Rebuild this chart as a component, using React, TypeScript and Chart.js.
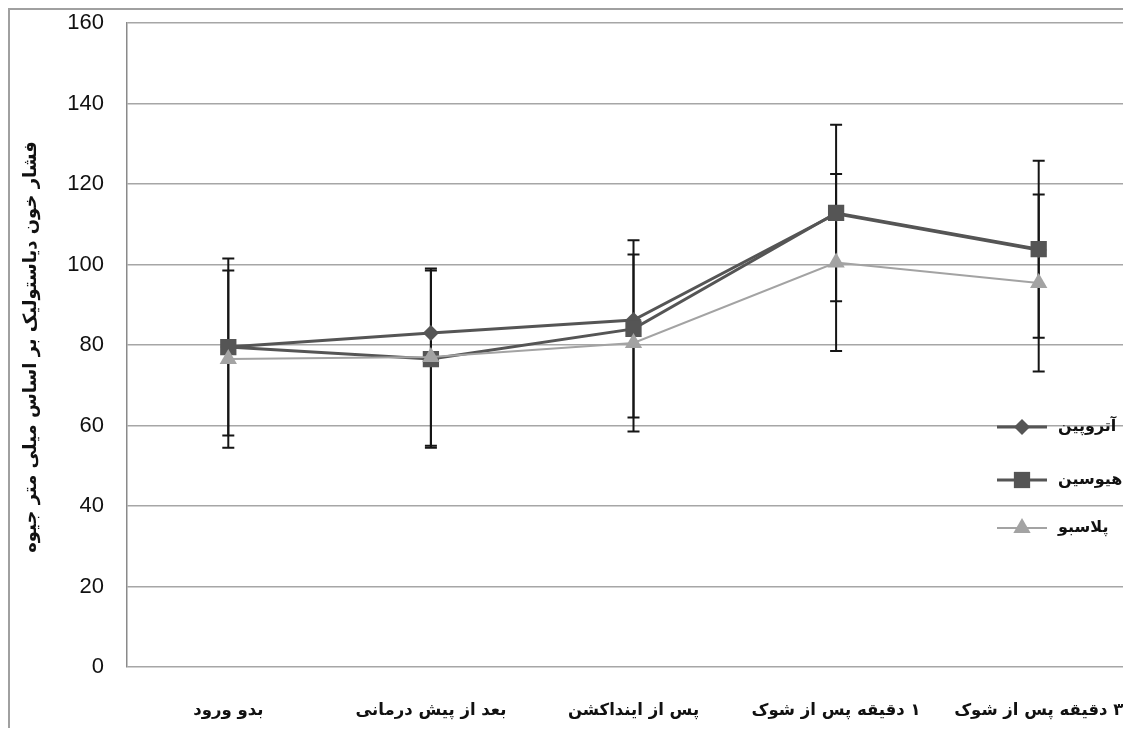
import React, { useEffect, useRef } from "react";
import { Chart, registerables } from "chart.js";

Chart.register(...registerables);

// ---- data ----
const categories = [
  "بدو ورود",
  "بعد از پیش درمانی",
  "پس از اینداکشن",
  "۱ دقیقه پس از شوک",
  "۳ دقیقه پس از شوک",
];
const seriesNames = ["آتروپین", "هیوسین", "پلاسبو"];
const atropine = [79.5, 83, 86.2, 112.6, 103.6];
const hyoscine = [79.5, 76.5, 84, 112.8, 103.8];
const placebo = [76.5, 77, 80.5, 100.5, 95.4];
const hyoscineSD = [22, 22, 22, 21.9, 22];
const placeboSD = [22, 22, 22, 22, 22];
const yMin = 0;
const yMax = 160;
const yStep = 20;
const yTitle = "فشار خون دیاستولیک بر اساس میلی متر جیوه";

const ARABIC_FONT = "'DejaVu Sans', 'Liberation Sans', sans-serif";
const CANVAS_W = 1130;
const CANVAS_H = 718;

const errorBarPlugin = {
  id: "errorBars",
  beforeDatasetsDraw(chart: any) {
    const ctx = chart.ctx;
    const xs = chart.scales.x;
    const ys = chart.scales.y;
    ctx.save();
    ctx.strokeStyle = "#151515";
    ctx.lineWidth = 2;
    chart.data.datasets.forEach((ds: any) => {
      if (!ds.errors) return;
      ds.data.forEach((v: number, i: number) => {
        const e = ds.errors[i];
        const x = xs.getPixelForValue(i);
        const yh = ys.getPixelForValue(v + e);
        const yl = ys.getPixelForValue(v - e);
        ctx.beginPath();
        ctx.moveTo(x, yh);
        ctx.lineTo(x, yl);
        ctx.moveTo(x - 6, yh);
        ctx.lineTo(x + 6, yh);
        ctx.moveTo(x - 6, yl);
        ctx.lineTo(x + 6, yl);
        ctx.stroke();
      });
    });
    ctx.restore();
  },
};

function drawMarker(ctx: CanvasRenderingContext2D, style: string, x: number, y: number, r: number) {
  ctx.beginPath();
  if (style === "rectRot") {
    ctx.moveTo(x - r, y);
    ctx.lineTo(x, y - r);
    ctx.lineTo(x + r, y);
    ctx.lineTo(x, y + r);
  } else if (style === "rect") {
    const s = r * Math.SQRT1_2;
    ctx.rect(x - s, y - s, 2 * s, 2 * s);
  } else {
    ctx.moveTo(x, y - r);
    ctx.lineTo(x + r * 0.866, y + r * 0.5);
    ctx.lineTo(x - r * 0.866, y + r * 0.5);
  }
  ctx.closePath();
  ctx.fill();
}

const legendPlugin = {
  id: "customLegend",
  afterDatasetsDraw(chart: any) {
    const ctx = chart.ctx;
    const a = chart.chartArea;
    const x0 = a.right - 143;
    const x1 = a.right - 93;
    const mx = (x0 + x1) / 2;
    const tx = a.right - 82;
    const rows = [404, 457, 505];
    ctx.save();
    chart.data.datasets.forEach((ds: any, i: number) => {
      const y = a.top + rows[i];
      ctx.strokeStyle = ds.borderColor;
      ctx.lineWidth = ds.borderWidth;
      ctx.beginPath();
      ctx.moveTo(x0, y);
      ctx.lineTo(x1, y);
      ctx.stroke();
      ctx.fillStyle = ds.pointBackgroundColor;
      drawMarker(ctx, ds.pointStyle, mx, y, ds.pointRadius);
      ctx.fillStyle = "#111";
      ctx.font = "bold 16px " + ARABIC_FONT;
      ctx.textAlign = "left";
      ctx.textBaseline = "middle";
      ctx.fillText(ds.label, tx, y);
    });
    ctx.restore();
  },
};

const yTitlePlugin = {
  id: "yTitle",
  afterDraw(chart: any) {
    const ctx = chart.ctx;
    const a = chart.chartArea;
    ctx.save();
    ctx.translate(21, (a.top + a.bottom) / 2 + 2);
    ctx.rotate(-Math.PI / 2);
    ctx.fillStyle = "#111";
    ctx.font = "bold 18px " + ARABIC_FONT;
    ctx.textAlign = "center";
    ctx.textBaseline = "middle";
    ctx.fillText(yTitle, 0, 0);
    ctx.restore();
  },
};

export default function App() {
  const ref = useRef<HTMLCanvasElement>(null);

  useEffect(() => {
    if (!ref.current) return;
    const chart = new Chart(ref.current, {
      type: "line",
      data: {
        labels: categories,
        datasets: [
          {
            label: seriesNames[0],
            data: atropine,
            borderColor: "#555555",
            backgroundColor: "#555555",
            pointBackgroundColor: "#555555",
            pointBorderColor: "#555555",
            borderWidth: 3,
            pointStyle: "rectRot",
            pointRadius: 8,
            pointBorderWidth: 0,
            order: 2,
          } as any,
          {
            label: seriesNames[1],
            data: hyoscine,
            errors: hyoscineSD,
            borderColor: "#555555",
            backgroundColor: "#555555",
            pointBackgroundColor: "#555555",
            pointBorderColor: "#555555",
            borderWidth: 3,
            pointStyle: "rect",
            pointRadius: 11.5,
            pointBorderWidth: 0,
            order: 1,
          } as any,
          {
            label: seriesNames[2],
            data: placebo,
            errors: placeboSD,
            borderColor: "#a3a3a3",
            backgroundColor: "#a3a3a3",
            pointBackgroundColor: "#a3a3a3",
            pointBorderColor: "#a3a3a3",
            borderWidth: 2,
            pointStyle: "triangle",
            pointRadius: 10,
            pointBorderWidth: 0,
            order: 0,
          } as any,
        ],
      },
      options: {
        animation: false,
        responsive: false,
        devicePixelRatio: 1,
        layout: { autoPadding: false, padding: { top: 13, left: 0, right: 0, bottom: 0 } },
        plugins: {
          legend: { display: false },
          tooltip: { enabled: false },
          title: { display: false },
        },
        scales: {
          x: {
            type: "category",
            offset: true,
            grid: { display: false, drawTicks: false },
            border: { display: false },
            ticks: {
              padding: 34,
              maxRotation: 0,
              autoSkip: false,
              color: "#111",
              font: { family: ARABIC_FONT, size: 16.5, weight: "bold" },
            },
            afterFit: (s: any) => {
              s.height = 61;
              s.paddingLeft = 0;
              s.paddingRight = 0;
            },
          },
          y: {
            min: yMin,
            max: yMax,
            ticks: {
              stepSize: yStep,
              padding: 23,
              color: "#111",
              font: { family: "'Liberation Sans', Arial, sans-serif", size: 22 },
            },
            grid: { color: "#a6a6a6", lineWidth: 1.5, drawTicks: false },
            border: { display: true, color: "#8a8a8a", width: 1.5 },
            afterFit: (s: any) => {
              s.width = 117;
              s.paddingTop = 0;
              s.paddingBottom = 0;
            },
          },
        },
      },
      plugins: [errorBarPlugin, legendPlugin, yTitlePlugin],
    });
    return () => chart.destroy();
  }, []);

  return (
    <div
      style={{
        width: 1123,
        height: 720,
        overflow: "hidden",
        boxSizing: "border-box",
        borderTop: "2px solid #a0a0a0",
        borderLeft: "2px solid #a0a0a0",
        background: "#fff",
      }}
    >
      <canvas
        ref={ref}
        dir="rtl"
        width={CANVAS_W}
        height={CANVAS_H}
        style={{ display: "block", width: CANVAS_W, height: CANVAS_H }}
      />
    </div>
  );
}
